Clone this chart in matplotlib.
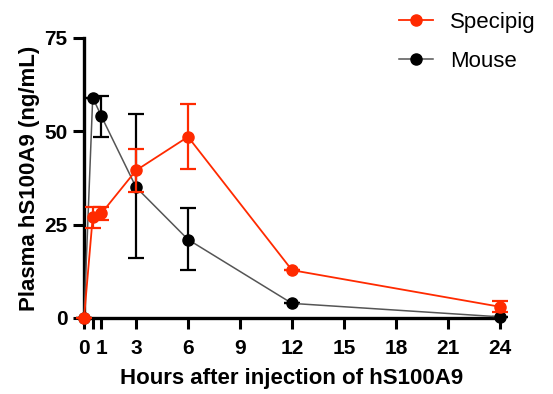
import matplotlib
matplotlib.use("Agg")
import matplotlib.pyplot as plt
from matplotlib.lines import Line2D

plt.rcParams['font.family'] = ['Liberation Sans', 'DejaVu Sans']

hours = [0, 0.5, 1, 3, 6, 12, 24]
specipig = [0, 27, 28, 39.5, 48.5, 12.8, 3.0]
specipig_err = [0, 2.8, 1.8, 5.8, 8.7, 0, 1.5]
mouse = [0, 59, 54, 35, 21, 3.9, 0.3]
mouse_err_lo = [0, 0, 5.5, 19, 8.2, 0, 0]
mouse_err_hi = [0, 0, 5.5, 19.5, 8.5, 0, 0]
xticks = [0, 0.5, 1, 3, 6, 9, 12, 15, 18, 21, 24]
xticklabels = ['0', '', '1', '3', '6', '9', '12', '15', '18', '21', '24']
yticks = [0, 25, 50, 75]

red = '#ff2a00'
grey = '#555555'
fig = plt.figure(figsize=(5.53, 3.94), dpi=100)
ax = fig.add_axes([0.152, 0.193, 0.752, 0.711])

ax.errorbar(hours, mouse, yerr=[mouse_err_lo, mouse_err_hi], color=grey, lw=1.1,
            marker='o', ms=8, mfc='black', mec='black', ecolor='black', elinewidth=1.6,
            capsize=5.5, capthick=1.6, clip_on=False, zorder=3)
ax.errorbar(hours, specipig, yerr=specipig_err, color=red, lw=1.3,
            marker='o', ms=8, mfc=red, mec=red, ecolor=red, elinewidth=1.6,
            capsize=5.5, capthick=1.6, clip_on=False, zorder=4)

ax.set_xlim(0, 24)
ax.set_ylim(0, 75)
ax.set_xticks(xticks)
ax.set_xticklabels(xticklabels)
ax.set_yticks(yticks)
for s in ['top', 'right']:
    ax.spines[s].set_visible(False)
for s in ['left', 'bottom']:
    ax.spines[s].set_linewidth(2.4)
ax.tick_params(width=2.2, length=8, labelsize=15)
ax.tick_params(axis='x', pad=7)
ax.tick_params(axis='y', pad=4)
for lab in ax.get_xticklabels() + ax.get_yticklabels():
    lab.set_fontweight('bold')
ax.set_xlabel('Hours after injection of hS100A9', fontsize=16, fontweight='bold', labelpad=7)
ax.set_ylabel('Plasma hS100A9 (ng/mL)', fontsize=16, fontweight='bold', labelpad=3)

handles = [Line2D([], [], color=red, lw=1.3, marker='o', ms=8, mfc=red, mec=red),
           Line2D([], [], color=grey, lw=1.1, marker='o', ms=8, mfc='black', mec='black')]
ax.legend(handles, ['Specipig', 'Mouse'], loc='upper left', bbox_to_anchor=(0.71, 1.165),
          frameon=False, fontsize=16, handlelength=1.5, handletextpad=0.8,
          labelspacing=0.83)

fig.savefig('out.png', dpi=100)
